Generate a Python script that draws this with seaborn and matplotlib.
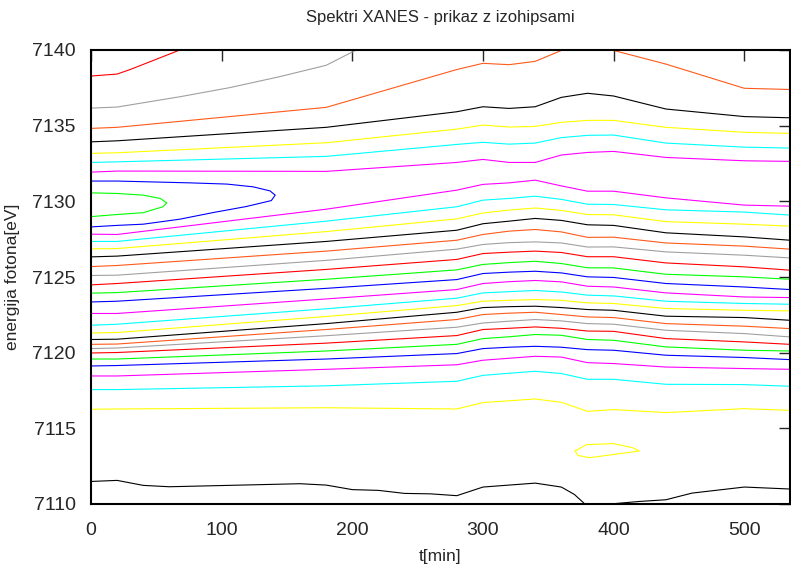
import numpy as np
import pandas as pd
import seaborn as sns
import matplotlib.pyplot as plt

# cas meritve [min] v katerih so odcitane izohipse
t_grid = [0, 20, 180, 280, 300, 320, 340, 360, 380, 400, 440, 500, 535]

# energije [eV] posameznih izohips pri t_grid (od zgoraj navzdol)
orange1 = [7134.82, 7134.89, 7136.21, 7138.71, 7139.12, 7139.03, 7139.25, 7139.97, 7140.26, 7139.97, 7139.07, 7137.47, 7137.39]
black1 = [7133.93, 7134.00, 7134.89, 7135.92, 7136.25, 7136.14, 7136.25, 7136.87, 7137.14, 7136.96, 7136.10, 7135.60, 7135.52]
yellow1 = [7133.17, 7133.21, 7133.87, 7134.77, 7135.04, 7134.91, 7134.95, 7135.22, 7135.35, 7135.35, 7134.89, 7134.56, 7134.49]
cyan1 = [7132.57, 7132.61, 7132.97, 7133.76, 7133.90, 7133.78, 7133.85, 7134.21, 7134.36, 7134.38, 7133.85, 7133.58, 7133.52]
magenta1 = [7131.93, 7132.00, 7131.98, 7132.57, 7132.77, 7132.57, 7132.57, 7133.06, 7133.23, 7133.30, 7132.90, 7132.68, 7132.64]
magenta2 = [7127.83, 7127.81, 7129.48, 7130.74, 7131.12, 7131.22, 7131.40, 7131.02, 7130.67, 7130.67, 7130.23, 7129.75, 7129.68]
cyan2 = [7127.35, 7127.35, 7128.69, 7129.64, 7130.08, 7130.19, 7130.34, 7130.13, 7129.81, 7129.79, 7129.44, 7129.29, 7129.09]
yellow2 = [7126.86, 7126.88, 7128.00, 7128.84, 7129.23, 7129.42, 7129.56, 7129.40, 7129.13, 7129.11, 7128.66, 7128.49, 7128.36]
black2 = [7126.33, 7126.38, 7127.35, 7128.09, 7128.52, 7128.69, 7128.87, 7128.74, 7128.45, 7128.41, 7127.92, 7127.65, 7127.43]
orange2 = [7125.69, 7125.76, 7126.71, 7127.43, 7127.81, 7128.03, 7128.14, 7127.98, 7127.62, 7127.63, 7127.25, 7127.04, 7126.84]
gray2 = [7125.10, 7125.12, 7126.10, 7126.84, 7127.15, 7127.27, 7127.32, 7127.25, 7126.98, 7126.99, 7126.66, 7126.44, 7126.26]
red2 = [7124.48, 7124.57, 7125.50, 7126.16, 7126.55, 7126.64, 7126.71, 7126.62, 7126.34, 7126.34, 7125.93, 7125.67, 7125.45]
green2 = [7123.93, 7123.97, 7124.85, 7125.47, 7125.83, 7125.95, 7126.04, 7125.89, 7125.61, 7125.60, 7125.18, 7125.01, 7124.85]
blue2 = [7123.35, 7123.40, 7124.25, 7124.83, 7125.23, 7125.32, 7125.38, 7125.27, 7125.01, 7124.97, 7124.57, 7124.34, 7124.17]
magenta3 = [7122.59, 7122.59, 7123.55, 7124.17, 7124.57, 7124.69, 7124.77, 7124.68, 7124.39, 7124.34, 7123.95, 7123.68, 7123.64]
cyan3 = [7121.81, 7121.88, 7122.90, 7123.60, 7123.95, 7124.03, 7124.11, 7124.01, 7123.80, 7123.75, 7123.40, 7123.25, 7123.20]
yellow3 = [7121.30, 7121.33, 7122.39, 7123.11, 7123.40, 7123.46, 7123.51, 7123.46, 7123.29, 7123.25, 7122.92, 7122.80, 7122.76]
black3 = [7120.87, 7120.89, 7121.92, 7122.67, 7122.98, 7123.04, 7123.07, 7122.98, 7122.85, 7122.80, 7122.41, 7122.32, 7122.14]
orange3 = [7120.55, 7120.57, 7121.53, 7122.19, 7122.52, 7122.61, 7122.67, 7122.52, 7122.36, 7122.32, 7121.92, 7121.75, 7121.59]
gray3 = [7120.27, 7120.31, 7121.12, 7121.68, 7121.96, 7122.08, 7122.19, 7122.10, 7121.92, 7121.88, 7121.48, 7121.26, 7121.04]
red3 = [7119.98, 7120.01, 7120.63, 7121.13, 7121.53, 7121.61, 7121.70, 7121.61, 7121.43, 7121.41, 7120.93, 7120.71, 7120.55]
green3 = [7119.58, 7119.58, 7120.11, 7120.55, 7120.93, 7121.05, 7121.20, 7121.15, 7120.87, 7120.82, 7120.38, 7120.16, 7120.11]
blue3 = [7119.12, 7119.15, 7119.58, 7119.94, 7120.27, 7120.36, 7120.42, 7120.36, 7120.20, 7120.16, 7119.83, 7119.68, 7119.54]
magenta4 = [7118.46, 7118.46, 7118.90, 7119.20, 7119.50, 7119.63, 7119.76, 7119.71, 7119.34, 7119.28, 7119.05, 7118.95, 7118.90]
cyan4 = [7117.56, 7117.56, 7117.81, 7118.11, 7118.50, 7118.64, 7118.77, 7118.62, 7118.24, 7118.24, 7117.91, 7117.89, 7117.78]
yellow4 = [7116.26, 7116.28, 7116.36, 7116.28, 7116.70, 7116.82, 7116.94, 7116.72, 7116.12, 7116.24, 7116.04, 7116.30, 7116.19]

# izohipse z lastnimi tockami
red1_t = [0, 20, 30, 68, 110]
red1_e = [7138.28, 7138.41, 7138.71, 7140.0, 7141.4]
gray1_t = [0, 20, 68, 106, 144, 180, 200, 230]
gray1_e = [7136.16, 7136.23, 7136.91, 7137.51, 7138.23, 7138.99, 7139.87, 7141.2]
black4_t = [0, 20, 40, 60, 160, 180, 200, 220, 240, 260, 280, 300, 340, 360, 370, 380, 400, 420, 440, 460, 500, 535]
black4_e = [7111.49, 7111.56, 7111.23, 7111.14, 7111.34, 7111.25, 7110.95, 7110.90, 7110.70, 7110.67, 7110.55, 7111.12,
            7111.38, 7111.12, 7110.63, 7109.84, 7110.02, 7110.17, 7110.28, 7110.72, 7111.12, 7110.99]

# zaprte izohipse (vrh in lokalni minimum)
blue_loop_t = [0, 20, 76, 104, 124, 137, 141, 138, 119, 93, 68, 40, 20, 0]
blue_loop_e = [7131.34, 7131.34, 7131.22, 7131.14, 7130.96, 7130.69, 7130.41, 7130.05, 7129.66, 7129.25, 7128.82, 7128.49, 7128.41, 7128.31]
green_loop_t = [0, 20, 40, 53, 58, 55, 40, 20, 0]
green_loop_e = [7130.56, 7130.52, 7130.41, 7130.19, 7129.90, 7129.64, 7129.25, 7129.13, 7128.99]
yellow_loop_t = [370.6, 379, 399.8, 414.6, 419.7, 381.5, 372.6, 370.6]
yellow_loop_e = [7113.50, 7113.92, 7113.99, 7113.72, 7113.50, 7113.06, 7113.21, 7113.50]

barve = {'red': '#ff0000', 'green': '#00ff00', 'blue': '#0000ff', 'magenta': '#ff00ff',
         'cyan': '#00ffff', 'yellow': '#ffff00', 'black': '#000000', 'orange': '#ff5a1a', 'gray': '#a0a0a0'}


def main():
    izohipse = [
        ('red1', 'red', red1_t, red1_e),
        ('gray1', 'gray', gray1_t, gray1_e),
        ('orange1', 'orange', t_grid, orange1),
        ('black1', 'black', t_grid, black1),
        ('yellow1', 'yellow', t_grid, yellow1),
        ('cyan1', 'cyan', t_grid, cyan1),
        ('magenta1', 'magenta', t_grid, magenta1),
        ('blue_loop', 'blue', blue_loop_t, blue_loop_e),
        ('green_loop', 'green', green_loop_t, green_loop_e),
        ('magenta2', 'magenta', t_grid, magenta2),
        ('cyan2', 'cyan', t_grid, cyan2),
        ('yellow2', 'yellow', t_grid, yellow2),
        ('black2', 'black', t_grid, black2),
        ('orange2', 'orange', t_grid, orange2),
        ('gray2', 'gray', t_grid, gray2),
        ('red2', 'red', t_grid, red2),
        ('green2', 'green', t_grid, green2),
        ('blue2', 'blue', t_grid, blue2),
        ('magenta3', 'magenta', t_grid, magenta3),
        ('cyan3', 'cyan', t_grid, cyan3),
        ('yellow3', 'yellow', t_grid, yellow3),
        ('black3', 'black', t_grid, black3),
        ('orange3', 'orange', t_grid, orange3),
        ('gray3', 'gray', t_grid, gray3),
        ('red3', 'red', t_grid, red3),
        ('green3', 'green', t_grid, green3),
        ('blue3', 'blue', t_grid, blue3),
        ('magenta4', 'magenta', t_grid, magenta4),
        ('cyan4', 'cyan', t_grid, cyan4),
        ('yellow4', 'yellow', t_grid, yellow4),
        ('yellow_loop', 'yellow', yellow_loop_t, yellow_loop_e),
        ('black4', 'black', black4_t, black4_e),
    ]

    # dolga tabela za seaborn
    vrstice = []
    for ime, barva, tt, ee in izohipse:
        for i, (t, e) in enumerate(zip(tt, ee)):
            vrstice.append({'izohipsa': ime, 'i': i, 't': t, 'E': e})
    df = pd.DataFrame(vrstice)
    paleta = {ime: barve[barva] for ime, barva, _, _ in izohipse}

    sns.set_style("white")
    plt.rcParams['font.family'] = ['Liberation Sans', 'DejaVu Sans']

    fig = plt.figure(figsize=(7.91, 5.77), dpi=100)
    ax = fig.add_axes([91 / 791, 73 / 577, 699 / 791, 454 / 577])

    sns.lineplot(data=df, x='t', y='E', hue='izohipsa', units='izohipsa', estimator=None,
                 sort=False, palette=paleta, linewidth=0.8, legend=False, ax=ax)

    ax.set_xlim(0, 535)
    ax.set_ylim(7110, 7140)
    ax.set_xticks(np.arange(0, 501, 100))
    ax.set_yticks(np.arange(7110, 7141, 5))
    ax.tick_params(direction='in', length=8, width=1, top=True, right=True, labelsize=14)
    ax.tick_params(axis='x', pad=13)
    ax.tick_params(axis='y', pad=11)
    for s in ax.spines.values():
        s.set_linewidth(1.5)
        s.set_color('black')

    ax.set_xlabel('t[min]', fontsize=12.5, labelpad=7)
    ax.set_ylabel('energija fotona[eV]', fontsize=12.5, labelpad=9)
    ax.set_title('Spektri XANES - prikaz z izohipsami', fontsize=12, pad=20)

    plt.savefig('out.png', dpi=100)


if __name__ == "__main__":
    main()
